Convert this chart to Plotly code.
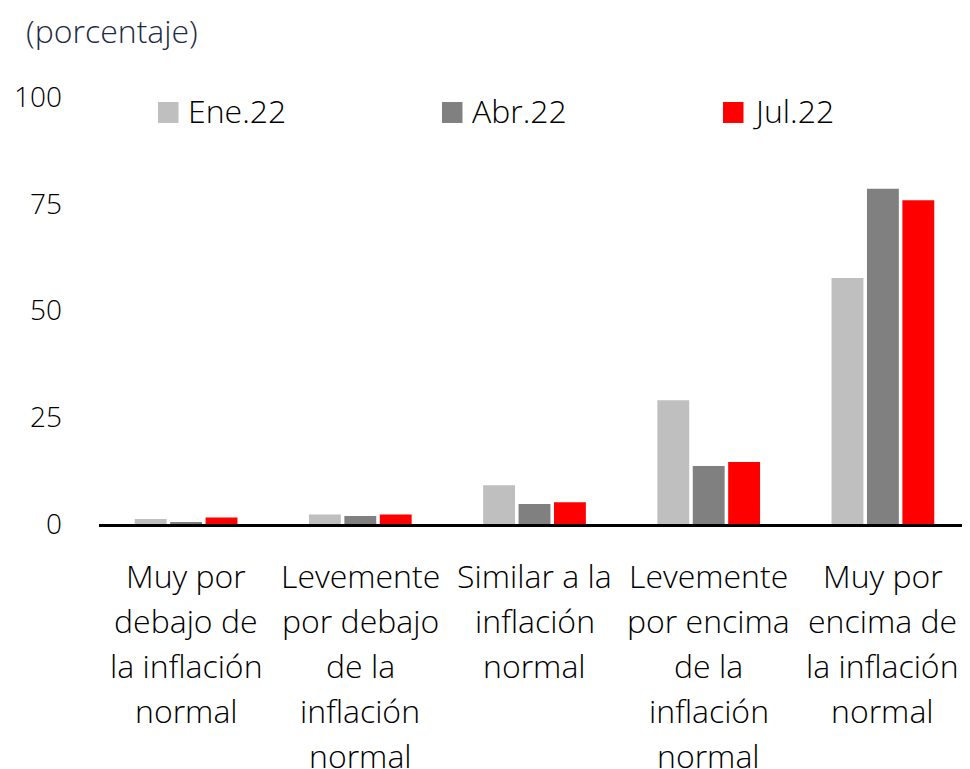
import plotly.graph_objects as go

categories = [
    "Muy por<br>debajo de<br>la inflación<br>normal",
    "Levemente<br>por debajo<br>de la<br>inflación<br>normal",
    "Similar a la<br>inflación<br>normal",
    "Levemente<br>por encima<br>de la<br>inflación<br>normal",
    "Muy por<br>encima de<br>la inflación<br>normal",
]
series_names = ["Ene.22", "Abr.22", "Jul.22"]
ene22 = [1.2, 2.2, 9.1, 29.0, 57.6]
abr22 = [0.4, 1.9, 4.7, 13.6, 78.5]
jul22 = [1.5, 2.2, 5.1, 14.5, 75.8]
y_ticks = [0, 25, 50, 75, 100]

colors = ["#BFBFBF", "#808080", "#FF0000"]
FONT = "Open Sans"
FS = 32
FS_TICK = 28
WT = 300

OFF = 8  # page body margin
W, H = 970 - OFF, 769 - OFF
L = 99 - OFF
T = 97 - OFF
BOT = 524.5 - OFF
B = H - BOT
R = 0
pw = W - L - R
ph = H - T - B


def px(x):
    return (x - OFF - L) / pw


def py(y):
    return (BOT - (y - OFF)) / ph


x_ids = list(range(len(categories)))

fig = go.Figure()
for name, vals, col in zip(series_names, [ene22, abr22, jul22], colors):
    fig.add_trace(go.Bar(x=x_ids, y=vals, name=name, marker_color=col,
                         marker_line_width=0, showlegend=False))

# category labels, one annotation per line
for i, cat in enumerate(categories):
    for j, line in enumerate(cat.split("<br>")):
        fig.add_annotation(x=i, y=0, xref="x", yref="y", text=line,
                           showarrow=False, xanchor="center", yanchor="middle",
                           yshift=-(51.5 + 45 * j),
                           font=dict(family=FONT, size=FS, color="#000000",
                                     weight=WT))

# manual legend
leg_sq_x = [158, 442, 723]
leg_y = 112.5
for name, col, sx in zip(series_names, colors, leg_sq_x):
    fig.add_shape(type="rect", xref="paper", yref="paper",
                  x0=px(sx), x1=px(sx + 20.5),
                  y0=py(leg_y + 10.5), y1=py(leg_y - 10.5),
                  fillcolor=col, line_width=0)
    fig.add_annotation(xref="paper", yref="paper", x=px(sx + 28),
                       y=py(leg_y - 2), text=name, showarrow=False,
                       xanchor="left", yanchor="middle",
                       font=dict(family=FONT, size=FS, color="#000000",
                                 weight=WT))

fig.add_annotation(xref="paper", yref="paper", x=px(24), y=py(30),
                   text="(porcentaje)", showarrow=False,
                   xanchor="left", yanchor="middle",
                   font=dict(family=FONT, size=FS, color="#1F2A44",
                             weight=WT))

fig.update_layout(
    width=W, height=H,
    margin=dict(l=L, r=R, t=T, b=B, pad=0),
    barmode="group", bargap=0.39, bargroupgap=0.1,
    plot_bgcolor="white", paper_bgcolor="white",
    font=dict(family=FONT, size=FS, color="#000000"),
)
fig.update_xaxes(tickvals=x_ids, ticktext=[""] * len(x_ids), showgrid=False,
                 showline=True, linecolor="#000000", linewidth=2.5,
                 range=[-0.5, len(categories) - 0.5], ticks="", zeroline=False)
fig.update_yaxes(range=[0, 100], tickvals=y_ticks, showgrid=False,
                 zeroline=False, showline=False, ticks="",
                 ticklabelstandoff=36,
                 tickfont=dict(family=FONT, size=FS_TICK, color="#000000",
                               weight=WT))

fig.write_html("out.html")
